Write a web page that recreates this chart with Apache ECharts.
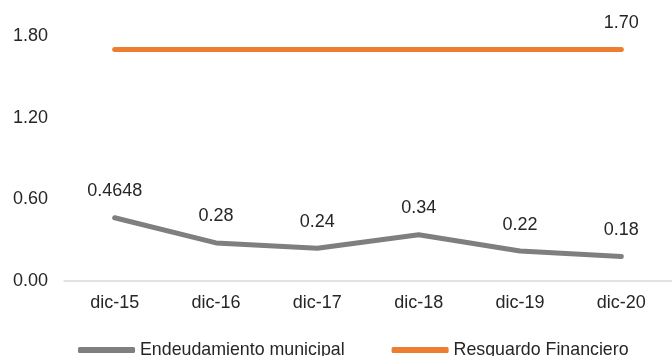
<!DOCTYPE html>
<html>
<head>
<meta charset="utf-8">
<script src="https://cdn.jsdelivr.net/npm/echarts@6/dist/echarts.min.js"></script>
<style>
  html, body { margin: 0; padding: 0; background: #ffffff; }
  #chart { width: 672px; height: 356px; }
</style>
</head>
<body>
<div id="chart"></div>
<script>
// Periods (December of each year)
const categories = ['dic-15', 'dic-16', 'dic-17', 'dic-18', 'dic-19', 'dic-20'];
// Municipal debt indicator
const endeudamiento = [0.4648, 0.28, 0.24, 0.34, 0.22, 0.18];
// Financial safeguard threshold
const resguardo = [1.70, 1.70, 1.70, 1.70, 1.70, 1.70];
// Value axis ticks
const yTicks = [0, 0.6, 1.2, 1.8];

const FONT = '"Liberation Sans", Arial, sans-serif';
const TEXT = '#262626';

const chart = echarts.init(document.getElementById('chart'), null, { renderer: 'canvas' });

chart.setOption({
  animation: false,
  backgroundColor: '#ffffff',
  grid: { left: 64, right: -12, top: 36, bottom: 75, containLabel: false },
  legend: {
    left: 78,
    top: 341,
    padding: 0,
    itemWidth: 57,
    itemHeight: 6,
    itemGap: 47,
    icon: 'roundRect',
    textStyle: { fontFamily: FONT, fontSize: 17.8, color: TEXT },
    data: ['Endeudamiento municipal', 'Resguardo Financiero']
  },
  xAxis: {
    type: 'category',
    data: categories,
    boundaryGap: true,
    axisLine: { show: true, lineStyle: { color: '#d9d9d9', width: 1.5 } },
    axisTick: { show: false },
    axisLabel: { fontFamily: FONT, fontSize: 18, color: TEXT, margin: 13 }
  },
  yAxis: {
    type: 'value',
    min: yTicks[0],
    max: yTicks[yTicks.length - 1],
    interval: yTicks[1] - yTicks[0],
    axisLine: { show: false },
    axisTick: { show: false },
    splitLine: { show: false },
    axisLabel: {
      fontFamily: FONT, fontSize: 18, color: TEXT, margin: 16,
      formatter: v => v.toFixed(2)
    }
  },
  series: [
    {
      name: 'Endeudamiento municipal',
      type: 'line',
      data: endeudamiento,
      symbol: 'circle',
      symbolSize: 1,
      showSymbol: true,
      color: '#7f7f7f',
      lineStyle: { color: '#7f7f7f', width: 5, cap: 'round', join: 'round' },
      label: {
        show: true,
        position: 'top',
        distance: 17,
        fontFamily: FONT,
        fontSize: 18,
        color: TEXT,
        formatter: p => String(p.value)
      }
    },
    {
      name: 'Resguardo Financiero',
      type: 'line',
      data: resguardo,
      symbol: 'circle',
      symbolSize: 1,
      showSymbol: true,
      color: '#ed7d31',
      lineStyle: { color: '#ed7d31', width: 5, cap: 'round', join: 'round' },
      label: {
        show: true,
        position: 'top',
        distance: 17,
        fontFamily: FONT,
        fontSize: 18,
        color: TEXT,
        formatter: p => (p.dataIndex === resguardo.length - 1 ? p.value.toFixed(2) : '')
      }
    }
  ]
});
</script>
</body>
</html>
